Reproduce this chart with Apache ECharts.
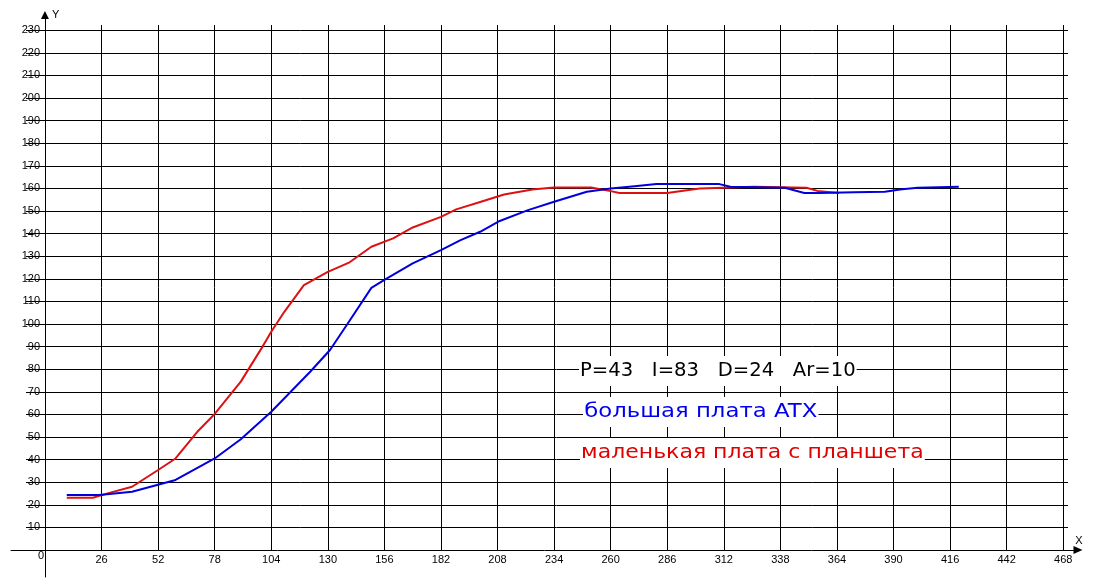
<!DOCTYPE html>
<html>
<head>
    <meta charset="utf-8">
    <title>ECharts</title>
    <script src="https://cdn.jsdelivr.net/npm/echarts@6/dist/echarts.min.js"></script>
</head>
<style>
    html, body {
        margin: 0;
        background: #fff;
    }
    #main {
        width: 1104px;
        height: 588px;
    }
</style>
<body>
    <div id="main"></div>
    <script type="text/javascript">
        // blue curve - big ATX board
        var blueX = [10, 25, 40, 60, 78, 90, 104, 122, 131, 139, 150, 156, 169, 182, 191, 200, 209, 222, 234, 249, 260, 271, 281, 296, 310, 315, 340, 349, 356, 372, 386, 393, 401, 420];
        var blueY = [24.3, 24.3, 25.8, 31, 40.5, 49, 61.2, 79, 88.5, 100, 116, 119.5, 126.8, 132.7, 137.1, 140.8, 145.6, 150.4, 154.1, 158.5, 160, 161, 161.9, 162, 161.9, 160.7, 160.3, 158, 158, 158.3, 158.5, 159.5, 160.3, 160.7];
        // red curve - small board from a tablet
        var redX = [10, 22, 30, 40, 52, 60, 70, 78, 90, 100, 104, 110, 119, 130, 140, 150, 160, 169, 182, 189, 200, 211, 224, 234, 251, 260, 264, 286, 295, 301, 326, 350, 355, 365];
        var redY = [23.1, 23.1, 25.4, 28, 35.4, 40.5, 52.3, 60.2, 74.5, 90, 96.6, 105.4, 117.2, 123.1, 127.3, 134.2, 137.9, 142.7, 147.4, 150.7, 154, 157.3, 159.5, 160.4, 160.4, 158.8, 158, 158, 159.2, 160, 160.7, 160.3, 158.9, 158];

        var pidText = 'P=43   I=83   D=24   Ar=10';
        var blueName = 'большая плата ATX';
        var redName = 'маленькая плата с планшета';

        var FONT = "'Liberation Sans', Arial, sans-serif";
        var NOTE_FONT = "20px 'DejaVu Sans', sans-serif";

        function zip(xs, ys) {
            var out = [];
            for (var i = 0; i < xs.length; i++) {
                out.push([xs[i], ys[i]]);
            }
            return out;
        }

        function note(text, color, left, top, sx) {
            return {
                type: 'text',
                left: left,
                top: top,
                z: 100,
                scaleX: sx,
                style: {
                    text: text,
                    fill: color,
                    font: NOTE_FONT,
                    backgroundColor: '#fff',
                    padding: [5, 1, 5, 1]
                }
            };
        }

        var option = {
            animation: false,
            backgroundColor: '#fff',
            grid: [
                // plot area (positive quadrant)
                { left: 45, right: 36, top: 25, bottom: 38 },
                // long axis lines with arrows
                { left: 11, right: 26, top: 15, bottom: 11 }
            ],
            xAxis: [{
                type: 'value',
                gridIndex: 0,
                min: 0,
                max: 470.2,
                interval: 26,
                axisLine: { show: false },
                axisTick: { show: false },
                axisLabel: {
                    margin: 4,
                    color: '#000',
                    fontFamily: FONT,
                    fontSize: 11,
                    showMaxLabel: false,
                    formatter: function (v) {
                        return v === 0 ? '{o|0}' : String(v);
                    },
                    rich: {
                        o: { padding: [0, 8, 0, 0], lineHeight: 3, fontSize: 11, fontFamily: FONT, color: '#000' }
                    }
                },
                splitLine: {
                    show: true,
                    showMinLine: false,
                    showMaxLine: false,
                    lineStyle: { color: '#000', width: 1 }
                }
            }, {
                type: 'value',
                gridIndex: 1,
                min: -15.6,
                max: 474.7,
                name: 'X',
                nameLocation: 'end',
                nameGap: 1,
                nameTextStyle: {
                    color: '#000', fontFamily: FONT, fontSize: 11,
                    align: 'center', verticalAlign: 'bottom', padding: [0, 0, 4, 0]
                },
                axisLine: {
                    show: true,
                    onZero: true,
                    symbol: ['none', 'triangle'],
                    symbolSize: [8, 9],
                    lineStyle: { color: '#000', width: 1 }
                },
                axisTick: { show: false },
                axisLabel: { show: false },
                splitLine: { show: false }
            }],
            yAxis: [{
                type: 'value',
                gridIndex: 0,
                min: 0,
                max: 232.3,
                interval: 10,
                axisLine: { show: false },
                axisTick: {
                    show: true,
                    length: 19,
                    lineStyle: { color: '#000', width: 1 }
                },
                axisLabel: {
                    margin: 5,
                    color: '#000',
                    fontFamily: FONT,
                    fontSize: 11,
                    showMinLabel: false,
                    showMaxLabel: false
                },
                splitLine: {
                    show: true,
                    showMinLine: false,
                    showMaxLine: false,
                    lineStyle: { color: '#000', width: 1 }
                }
            }, {
                type: 'value',
                gridIndex: 1,
                min: -11.9,
                max: 236.7,
                name: 'Y',
                nameLocation: 'end',
                nameGap: 0,
                nameTextStyle: {
                    color: '#000', fontFamily: FONT, fontSize: 11,
                    align: 'left', verticalAlign: 'middle', padding: [0, 0, 0, 7]
                },
                axisLine: {
                    show: true,
                    onZero: true,
                    symbol: ['none', 'triangle'],
                    symbolSize: [8, 8],
                    lineStyle: { color: '#000', width: 1 }
                },
                axisTick: { show: false },
                axisLabel: { show: false },
                splitLine: { show: false }
            }],
            series: [{
                name: redName,
                type: 'line',
                xAxisIndex: 0,
                yAxisIndex: 0,
                showSymbol: false,
                lineStyle: { color: '#dd1111', width: 2 },
                itemStyle: { color: '#dd1111' },
                data: zip(redX, redY),
                z: 3
            }, {
                name: blueName,
                type: 'line',
                xAxisIndex: 0,
                yAxisIndex: 0,
                showSymbol: false,
                lineStyle: { color: '#0000dd', width: 2 },
                itemStyle: { color: '#0000dd' },
                data: zip(blueX, blueY),
                z: 4
            }],
            graphic: [
                note(pidText, '#000', 579, 356, 0.98),
                note(blueName, '#0000ee', 583, 397, 1.14),
                note(redName, '#e00000', 580, 438, 1.1)
            ]
        };

        var myChart = echarts.init(document.getElementById('main'));
        myChart.setOption(option);
    </script>
</body>
</html>
